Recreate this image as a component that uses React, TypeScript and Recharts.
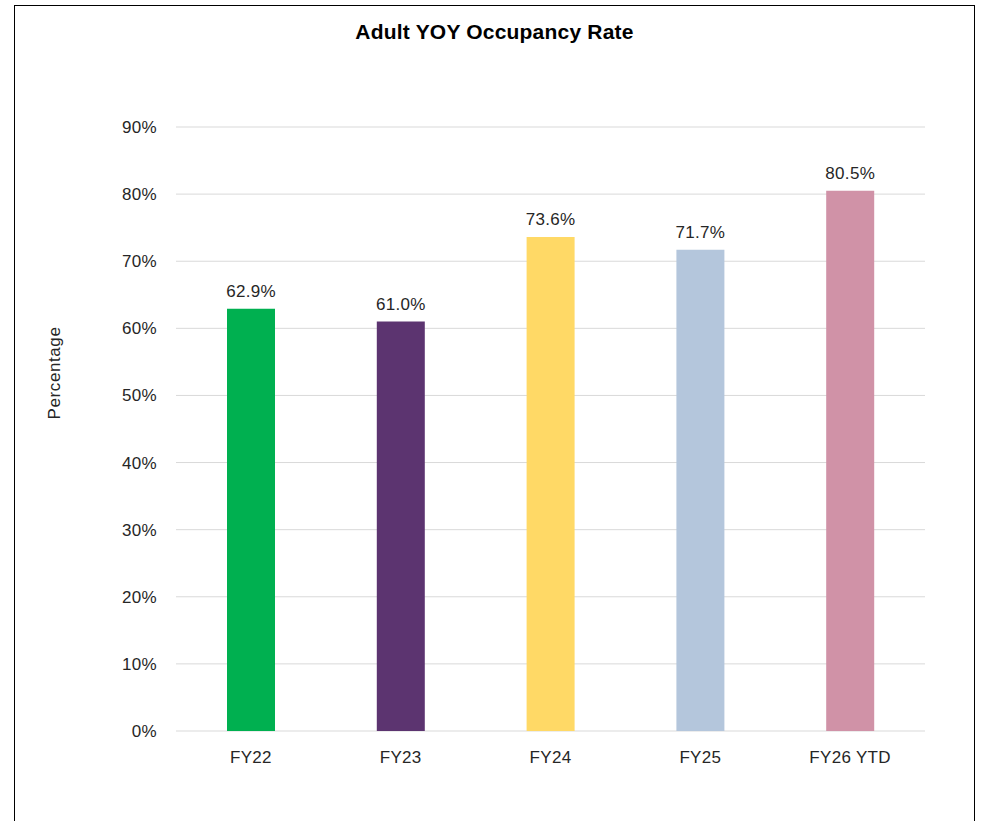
import { BarChart, Bar, XAxis, YAxis, CartesianGrid, Cell, LabelList } from 'recharts'

const years = ['FY22', 'FY23', 'FY24', 'FY25', 'FY26 YTD']
const occupancy = [62.9, 61.0, 73.6, 71.7, 80.5]
const barColors = ['#00B050', '#5C3470', '#FFD966', '#B4C6DC', '#D092A7']
const yTicks = [0, 10, 20, 30, 40, 50, 60, 70, 80, 90]

const data = years.map((year, i) => ({ year, rate: occupancy[i] }))

const FONT = '"Liberation Sans", Arial, sans-serif'
const TEXT = '#262626'
const textStyle = { fill: TEXT, fontSize: 17, fontFamily: FONT, letterSpacing: 0.3 }

export default function App() {
  return (
    <div
      style={{
        position: 'absolute', left: 14, top: 5, width: 959, height: 830,
        border: '1px solid #000', background: '#fff', fontFamily: FONT,
      }}
    >
      <div
        style={{
          position: 'absolute', top: 14, left: 0, width: '100%', textAlign: 'center',
          fontWeight: 700, fontSize: 21, color: '#000', letterSpacing: 0.2,
        }}
      >
        Adult YOY Occupancy Rate
      </div>
      <div
        style={{
          position: 'absolute', left: 40, top: 367, transform: 'translate(-50%, -50%) rotate(-90deg)',
          fontSize: 17, color: TEXT, whiteSpace: 'nowrap', letterSpacing: 0.6,
        }}
      >
        Percentage
      </div>
      <BarChart
        width={959} height={815} data={data}
        margin={{ top: 121, right: 49, left: 20, bottom: 20 }}
        style={{ position: 'absolute', left: 0, top: 0 }}
      >
        <CartesianGrid vertical={false} stroke="#d9d9d9" />
        <XAxis
          dataKey="year" axisLine={false} tickLine={false} tickSize={0} tickMargin={20} height={70}
          tick={textStyle}
        />
        <YAxis
          width={141} domain={[0, 90]} ticks={yTicks} axisLine={false} tickLine={false}
          tickSize={0} tickMargin={19} tickFormatter={(v: number) => `${v}%`}
          tick={textStyle}
        />
        <Bar dataKey="rate" barSize={48} isAnimationActive={false}>
          {data.map((d, i) => (
            <Cell key={d.year} fill={barColors[i]} />
          ))}
          <LabelList
            dataKey="rate" position="top" offset={12}
            formatter={(v: number) => `${v.toFixed(1)}%`}
            style={textStyle}
          />
        </Bar>
      </BarChart>
    </div>
  )
}
